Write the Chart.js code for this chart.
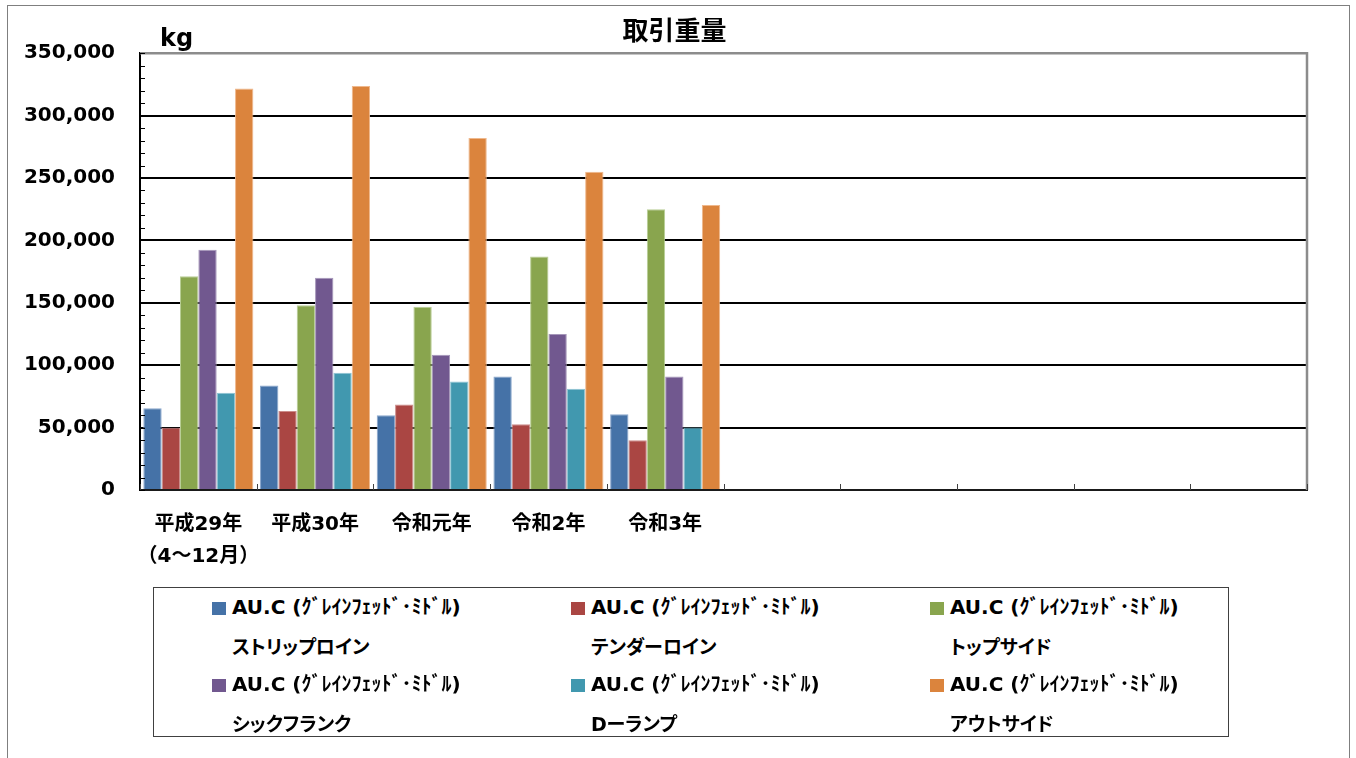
<!DOCTYPE html>
<html lang="ja">
<head>
<meta charset="utf-8">
<title>取引重量</title>
<script src="https://cdn.jsdelivr.net/npm/chart.js@4.4.1/dist/chart.umd.min.js"></script>
<style>
  html, body { margin: 0; padding: 0; background: #fff; overflow: hidden; }
  #frame { position: absolute; left: 7px; top: 5px; width: 1341px; height: 800px; border: 1px solid #7f7f7f; }
  #wrap { position: absolute; left: 0; top: 0; width: 1356px; height: 758px; }
  #legend {
    position: absolute; left: 153px; top: 587px; width: 1074px; height: 148px;
    border: 1px solid #404040; background: #fff;
    font-family: "DejaVu Sans", "Noto Sans CJK JP", sans-serif; font-weight: bold; color: #000;
  }
  .item { position: absolute; }
  .item .sw { position: absolute; left: 0; top: 11px; width: 14px; height: 13px; }
  .item .l1 { position: absolute; left: 20px; top: 0; white-space: nowrap; line-height: 32px; font-size: 20px; }
  .item .l2 { position: absolute; left: 20px; top: 41px; white-space: nowrap; line-height: 30px; font-size: 19px; font-feature-settings: "palt"; }
</style>
</head>
<body>
<div id="frame"></div>
<div id="wrap"><canvas id="chart"></canvas></div>
<div id="legend"></div>
<script>
// categories (10 slots on the axis, only five years filled)
var categories = [["平成29年", "（4～12月）"], "平成30年", "令和元年", "令和2年", "令和3年", "", "", "", "", ""];
var seriesPrefix = "AU.C (ｸﾞﾚｲﾝﾌｪｯﾄﾞ･ﾐﾄﾞﾙ)";
var seriesNames = ["ストリップロイン", "テンダーロイン", "トップサイド", "シックフランク", "Dーランプ", "アウトサイド"];

// kg
var stripLoin  = [65500, 83800, 59800, 91000, 60600];
var tenderLoin = [49800, 63300, 68600, 52600, 39800];
var topSide    = [171300, 148100, 146800, 187000, 225000];
var thickFlank = [192600, 170000, 108400, 124900, 91000];
var dRump      = [78000, 94000, 87000, 81200, 50000];
var outSide    = [321800, 323800, 282000, 255000, 228400];

var yTicks = [0, 50000, 100000, 150000, 200000, 250000, 300000, 350000];

var colors = ["#4572A7", "#AA4643", "#89A54E", "#71588F", "#4198AF", "#DB843D"];
var edges  = ["#8AA6CC", "#CC8C8A", "#B8CE95", "#A596B9", "#8EC4D3", "#EFB88C"];
var series = [stripLoin, tenderLoin, topSide, thickFlank, dRump, outSide];

var FONT = "'DejaVu Sans', 'Noto Sans CJK JP', sans-serif";

// draws the plot frame, inner minor ticks and the "kg" unit
var decorations = {
  id: "decorations",
  afterDraw: function (chart) {
    var ctx = chart.ctx, a = chart.chartArea;
    var x = chart.scales.x, y = chart.scales.y;
    ctx.save();
    // grey frame top / right
    ctx.strokeStyle = "#8c8c8c";
    ctx.lineWidth = 2.5;
    ctx.beginPath();
    ctx.moveTo(a.left, a.top);
    ctx.lineTo(a.right, a.top);
    ctx.lineTo(a.right, a.bottom);
    ctx.stroke();
    // minor ticks on the value axis
    ctx.strokeStyle = "#000";
    ctx.lineWidth = 1;
    ctx.beginPath();
    for (var v = 0; v <= 350000; v += 10000) {
      var py = Math.round(y.getPixelForValue(v)) + 0.5;
      ctx.moveTo(a.left, py);
      ctx.lineTo(a.left + 5, py);
    }
    ctx.stroke();
    // category boundary ticks
    ctx.strokeStyle = "#404040";
    ctx.beginPath();
    for (var i = 0; i <= categories.length; i++) {
      var px = Math.round(x.getPixelForValue(i - 0.5)) + 0.5;
      ctx.moveTo(px, a.bottom);
      ctx.lineTo(px, a.bottom - 6);
    }
    ctx.stroke();
    // unit label
    ctx.fillStyle = "#000";
    ctx.font = "bold 24px " + FONT;
    ctx.textAlign = "left";
    ctx.textBaseline = "alphabetic";
    ctx.fillText("kg", a.left + 20, 46);
    ctx.restore();
  }
};

var chart = new Chart(document.getElementById("chart"), {
  type: "bar",
  data: {
    labels: categories,
    datasets: series.map(function (d, i) {
      return {
        label: seriesPrefix + " " + seriesNames[i],
        data: d,
        backgroundColor: colors[i],
        borderColor: edges[i],
        borderWidth: 1,
        barPercentage: 1,
        categoryPercentage: 0.943
      };
    })
  },
  options: {
    responsive: true,
    maintainAspectRatio: false,
    animation: false,
    layout: { padding: { left: 0, right: 7, top: 0, bottom: 0 } },
    plugins: {
      legend: { display: false },
      tooltip: { enabled: false },
      title: {
        display: true,
        text: "取引重量",
        color: "#000",
        font: { family: FONT, size: 26, weight: "bold", lineHeight: 1.2 },
        padding: { top: 18, bottom: 4 }
      }
    },
    scales: {
      x: {
        grid: { display: false, drawTicks: false },
        border: { display: true, color: "#1a1a1a", width: 2 },
        ticks: {
          color: "#000",
          padding: 19,
          maxRotation: 0,
          autoSkip: false,
          font: { family: FONT, size: 20, weight: "bold", lineHeight: 1.6 }
        },
        afterFit: function (s) { s.height = 268; }
      },
      y: {
        min: 0,
        max: 350000,
        afterBuildTicks: function (s) { s.ticks = yTicks.map(function (v) { return { value: v }; }); },
        grid: {
          drawTicks: false,
          color: function (c) { return c.tick && c.tick.value === 350000 ? "rgba(0,0,0,0)" : "#000"; },
          lineWidth: 2
        },
        border: { display: true, color: "#000", width: 2 },
        ticks: {
          color: "#000",
          padding: 25,
          font: { family: FONT, size: 20, weight: "bold" },
          callback: function (v) { return Number(v).toLocaleString("en-US"); }
        },
        afterFit: function (s) { s.width = 140; }
      },
      // empty spacer on the right so the plot ends where the original does
      spacer: {
        position: "right",
        axis: "y",
        display: true,
        grid: { display: false, drawTicks: false },
        border: { display: false },
        ticks: { display: false },
        afterFit: function (s) { s.width = 42; }
      }
    }
  },
  plugins: [decorations]
});

// HTML legend built from the chart's datasets: 3 columns x 2 rows
var legend = document.getElementById("legend");
chart.data.datasets.forEach(function (ds, i) {
  var col = i % 3, row = Math.floor(i / 3);
  var it = document.createElement("div");
  it.className = "item";
  it.style.left = (58 + col * 359) + "px";
  it.style.top = (3 + row * 77) + "px";
  var sw = document.createElement("span");
  sw.className = "sw";
  sw.style.background = ds.backgroundColor;
  var l1 = document.createElement("span");
  l1.className = "l1";
  l1.textContent = seriesPrefix;
  var l2 = document.createElement("span");
  l2.className = "l2";
  l2.textContent = seriesNames[i];
  it.appendChild(sw); it.appendChild(l1); it.appendChild(l2);
  legend.appendChild(it);
});
</script>
</body>
</html>
